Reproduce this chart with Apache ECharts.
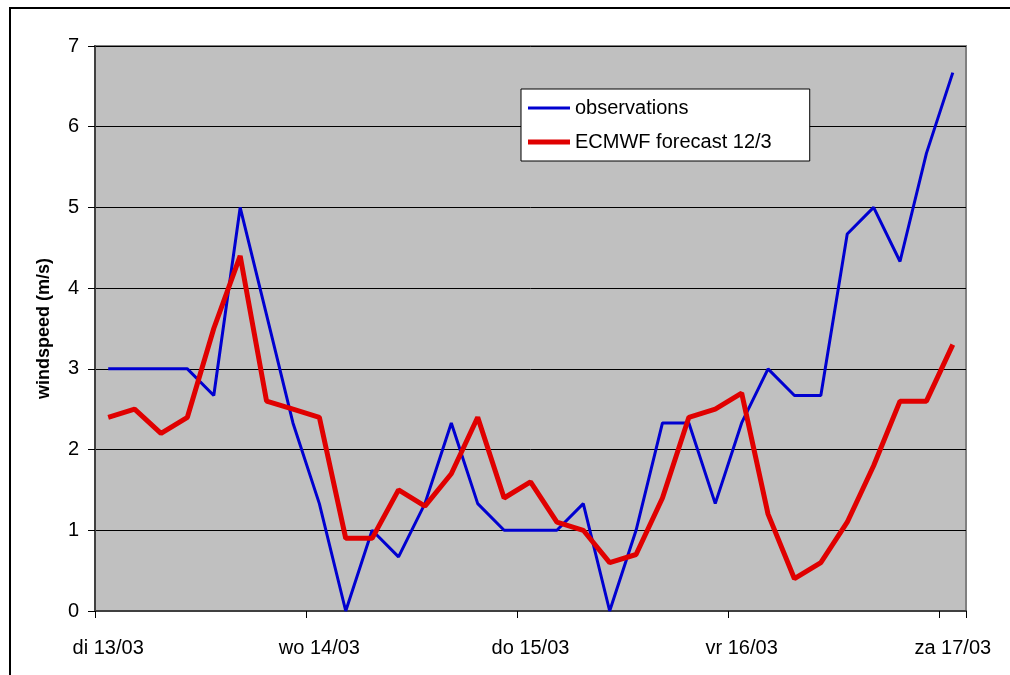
<!DOCTYPE html>
<html>
<head>
<meta charset="utf-8">
<title>windspeed</title>
<script src="https://cdn.jsdelivr.net/npm/echarts@6/dist/echarts.min.js"></script>
<style>
  html, body { margin: 0; padding: 0; background: #ffffff; }
  #chart { width: 1010px; height: 675px; }
</style>
</head>
<body>
<div id="chart"></div>
<script>
// Day labels shown on the time axis (one per day, at 00 UTC)
const dayLabels = ['di 13/03', 'wo 14/03', 'do 15/03', 'vr 16/03', 'za 17/03'];
// 3-hourly slots per day
const hours = ['00', '03', '06', '09', '12', '15', '18', '21'];

// Observed windspeed (m/s), 3-hourly
const observations = [
  3.0, 3.0, 3.0, 3.0, 2.67, 5.0, 3.67, 2.33,
  1.33, 0.0, 1.0, 0.67, 1.33, 2.33, 1.33, 1.0,
  1.0, 1.0, 1.33, 0.0, 1.0, 2.33, 2.33, 1.33,
  2.33, 3.0, 2.67, 2.67, 4.67, 5.0, 4.33, 5.67,
  6.67
];

// ECMWF forecast from 12/3 (m/s), 3-hourly
const ecmwf = [
  2.4, 2.5, 2.2, 2.4, 3.5, 4.4, 2.6, 2.5,
  2.4, 0.9, 0.9, 1.5, 1.3, 1.7, 2.4, 1.4,
  1.6, 1.1, 1.0, 0.6, 0.7, 1.4, 2.4, 2.5,
  2.7, 1.2, 0.4, 0.6, 1.1, 1.8, 2.6, 2.6,
  3.3
];

// Category axis: every 3-hour slot from di 13/03 00 to za 17/03 00
const categories = [];
dayLabels.forEach((d, i) => {
  if (i < dayLabels.length - 1) {
    hours.forEach(h => categories.push(d + ' ' + h));
  } else {
    categories.push(d + ' ' + hours[0]);
  }
});

const FONT = '"Liberation Sans", Arial, sans-serif';

// Legend line swatches: a horizontal bar inside a 42x14 box
// (tiny corner dots keep the box extent so the bar is not stretched)
const lineIcon = (thick) => {
  const y0 = (14 - thick) / 2, y1 = y0 + thick;
  return 'path://M0,0H0.01V0.01H0Z M0,' + y0 + 'H42V' + y1 + 'H0Z M41.99,13.99H42V14H41.99Z';
};

const chart = echarts.init(document.getElementById('chart'), null, { renderer: 'canvas' });

chart.setOption({
  animation: false,
  backgroundColor: '#ffffff',
  graphic: [{
    type: 'rect',
    shape: { x: 10, y: 8, width: 1020, height: 700 },
    style: { fill: 'none', stroke: '#000000', lineWidth: 2 },
    silent: true,
    z: 100
  }],
  grid: {
    left: 95, right: 44, top: 46, bottom: 64,
    show: true,
    backgroundColor: '#c0c0c0',
    borderColor: '#808080',
    borderWidth: 2
  },
  legend: {
    orient: 'vertical',
    left: 521, top: 89,
    backgroundColor: '#ffffff',
    borderColor: '#000000',
    borderWidth: 1,
    padding: [9, 38, 9, 7],
    itemWidth: 42,
    itemHeight: 14,
    itemGap: 14,
    textStyle: { fontFamily: FONT, fontSize: 20, color: '#000000' },
    data: [
      { name: 'observations', icon: lineIcon(3) },
      { name: 'ECMWF forecast 12/3', icon: lineIcon(5) }
    ]
  },
  xAxis: {
    type: 'category',
    data: categories,
    boundaryGap: true,
    axisLine: { lineStyle: { color: '#404040', width: 2 } },
    axisTick: { show: true, interval: 7, length: 7, lineStyle: { color: '#000000', width: 1 } },
    axisLabel: {
      interval: 7,
      margin: 27,
      fontFamily: FONT, fontSize: 20, color: '#000000',
      formatter: v => v.split(' ').slice(0, 2).join(' ')
    },
    splitLine: { show: false }
  },
  yAxis: {
    type: 'value',
    min: 0, max: 7, interval: 1,
    name: 'windspeed (m/s)',
    nameLocation: 'middle',
    nameRotate: 90,
    nameGap: 42,
    nameTextStyle: { fontFamily: FONT, fontSize: 18, fontWeight: 'bold', color: '#000000' },
    axisLine: { show: true, lineStyle: { color: '#404040', width: 2 } },
    axisTick: { show: true, length: 7, lineStyle: { color: '#000000', width: 1 } },
    axisLabel: { margin: 16, fontFamily: FONT, fontSize: 20, color: '#000000' },
    splitLine: { show: true, lineStyle: { color: '#000000', width: 1 } }
  },
  series: [
    {
      name: 'observations',
      type: 'line',
      data: observations,
      symbol: 'none',
      lineStyle: { color: '#0000d0', width: 3 },
      itemStyle: { color: '#0000d0' },
      z: 3
    },
    {
      name: 'ECMWF forecast 12/3',
      type: 'line',
      data: ecmwf,
      symbol: 'none',
      lineStyle: { color: '#e00000', width: 5 },
      itemStyle: { color: '#e00000' },
      z: 4
    }
  ]
});
</script>
</body>
</html>
